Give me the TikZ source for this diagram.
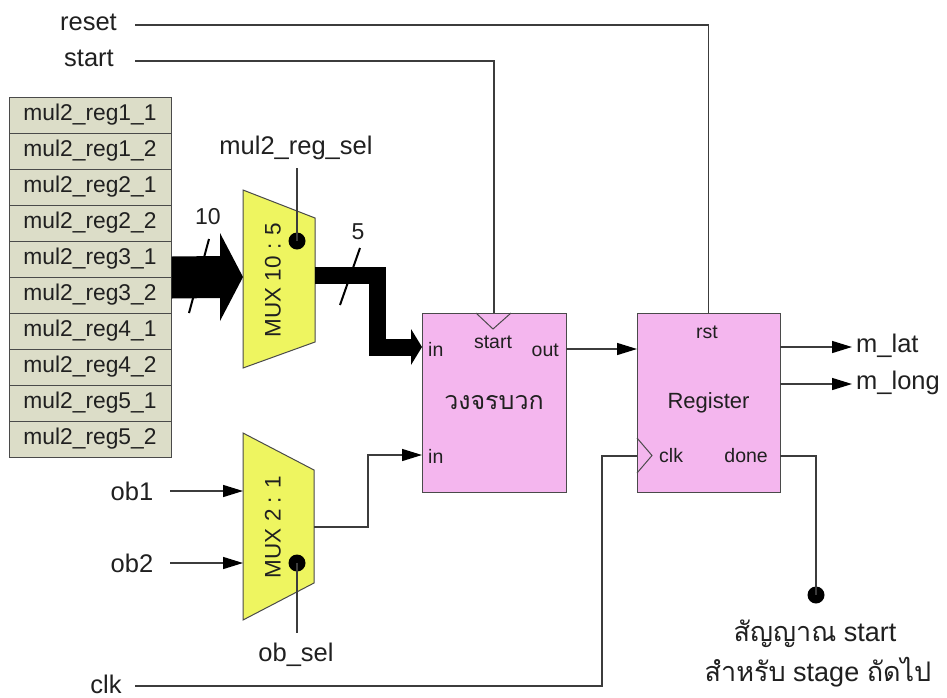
\documentclass[tikz,border=0pt]{standalone}
\usepackage{fontspec}
\setmainfont{Liberation Sans}
\newfontfamily\thaifont[Script=Thai]{Loma}
\usetikzlibrary{arrows.meta,calc}
\definecolor{stackfill}{HTML}{DCDDC8}
\definecolor{muxfill}{HTML}{EEF560}
\definecolor{boxfill}{HTML}{F4B6EE}
\definecolor{edgec}{HTML}{4A4A4A}
\definecolor{wirec}{HTML}{3C3C3C}
\definecolor{txtc}{HTML}{202020}
\tikzset{
  stackcell/.style={draw=edgec, line width=1pt, fill=stackfill, minimum width=162pt,
    minimum height=36pt, inner sep=0pt, text=txtc, font=\fontsize{22.8}{26}\selectfont},
  lbl/.style={font=\fontsize{25.5}{30}\selectfont, inner sep=0pt, text=txtc},
  midlbl/.style={font=\fontsize{22.5}{26}\selectfont, inner sep=0pt, text=txtc},
  port/.style={font=\fontsize{19.5}{22}\selectfont, inner sep=0pt, text=txtc},
  block/.style={draw=edgec, line width=1pt, fill=boxfill, inner sep=0pt},
  muxshape/.style={draw=edgec, line width=1pt, fill=muxfill},
  wire/.style={draw=wirec, line width=1.4pt},
  sig/.style={wire, -{Triangle[length=20pt,width=12pt,black]}},
  dotn/.style={circle, fill=black, minimum size=17pt, inner sep=0pt},
  slash/.style={draw=black, line width=2pt},
}
\begin{document}
\begin{tikzpicture}[x=1pt,y=-1pt]
\fill[white] (0,0) rectangle (947,697);
\useasboundingbox (0,0) rectangle (947,697);

% register stack
\foreach \t [count=\i] in {mul2\_reg1\_1,mul2\_reg1\_2,mul2\_reg2\_1,mul2\_reg2\_2,mul2\_reg3\_1,mul2\_reg3\_2,mul2\_reg4\_1,mul2\_reg4\_2,mul2\_reg5\_1,mul2\_reg5\_2}
  \node[stackcell] (c\i) at (90,{115+36*(\i-1)}) {\t};

% MUX 10:5
\draw[muxshape] (243,190) -- (315,218) -- (315,342) -- (243,368) -- cycle;
\node[midlbl, rotate=90] (mux1) at (273,280) {MUX 10 : 5};
\coordinate (m1in) at (243,277);
\coordinate (m1out) at (315,275);

% bus 10
\draw[slash] (209,239) -- (189,313);
\fill[black] ($(c5.south east)+(0,-21)$) -- ($(m1in)+(-23,-21)$) -- ($(m1in)+(-23,-44)$)
  -- (m1in) -- ($(m1in)+(-23,44)$) -- ($(m1in)+(-23,21)$) -- ($(c5.south east)+(0,21)$) -- cycle;
\node[midlbl, font=\fontsize{23}{26}\selectfont] (n10) at (208,217) {10};

% select of MUX 10:5
\node[lbl] (sel1) at (296,148) {mul2\_reg\_sel};
\node[dotn] (dot1) at (297,241) {};
\draw[wire] (dot1.center) -- (297,168);

% MUX 2:1
\draw[muxshape] (243,433) -- (314,470) -- (314,583) -- (243,620) -- cycle;
\node[midlbl, rotate=90] (mux2) at (273,527) {MUX 2 : 1};
\coordinate (m2in1) at (243,491);
\coordinate (m2in2) at (243,563);
\coordinate (m2out) at (314,527);
\node[dotn] (dot2) at (297,563) {};
\node[lbl] (obsel) at (296,655) {ob\_sel};
\draw[wire] (dot2.center) -- (297,633);

% adder
\node[block, minimum width=144pt, minimum height=179pt, font=\thaifont\fontsize{25}{28}\selectfont, text=txtc] (add) at (494,402.5) {วงจรบวก};
\draw[draw=edgec, line width=1pt] (476,313) -- (493,329) -- (511,313);
\node[port] (pstart) at (493,342) {start};
\node[port, anchor=west] (pin1) at (428,349) {in};
\node[port, anchor=east] (pout) at (559,350) {out};
\node[port, anchor=west] (pin2) at (428,456) {in};
\coordinate (addin1) at (422,347);
\coordinate (addin2) at (422,455);
\coordinate (addout) at (566,349);

% register
\node[block, minimum width=143pt, minimum height=179pt, font=\fontsize{22}{26}\selectfont, text=txtc] (reg) at (708.5,402.5) {Register};
\draw[draw=edgec, line width=1pt] (637,438) -- (652,455.5) -- (637,473);
\node[port] (prst) at (707,332) {rst};
\node[port, anchor=west] (pclk) at (659,456) {clk};
\node[port, anchor=east] (pdone) at (768,456) {done};
\coordinate (regin) at (637,349);
\coordinate (regclk) at (637,456);
\coordinate (regq1) at (780,347);
\coordinate (regq2) at (780,384);
\coordinate (regdone) at (780,456);

% bus 5
\draw[slash] (360,248) -- (340,305);
\draw[line width=17pt, line join=miter, draw=black] (m1out) -- ($(m1out)+(62,0)$) |- ($(addin1)+(-10,0)$);
\fill[black] ($(addin1)+(-11,-18)$) -- (addin1) -- ($(addin1)+(-11,18)$) -- cycle;
\node[midlbl, font=\fontsize{23}{26}\selectfont] (n5) at (358,232) {5};

% control inputs
\node[lbl, anchor=east] (reset) at (117,22) {reset};
\coordinate (resetL) at (135,25);
\draw[wire] (resetL) -| (reg.north);
\node[lbl, anchor=east] (start) at (114,58) {start};
\coordinate (startL) at (135,61);
\draw[wire] (startL) -| (add.north);

\node[lbl] (ob1) at (132,491) {ob1};
\node[lbl] (ob2) at (132,563) {ob2};
\draw[sig] (ob1.east -| 170,0) -- (m2in1);
\draw[sig] (ob2.east -| 170,0) -- (m2in2);

\node[lbl] (clk) at (106,684) {clk};
\coordinate (clkL) at (135,686);
\draw[wire] (clkL) -| ($(regclk)+(-35,0)$) -- (regclk);

% internal wires
\draw[sig] (m2out) -| ($(m2out)!0.5!(addin2)$) |- (addin2);
\draw[sig] (addout) -- (regin);

% outputs
\node[lbl, anchor=west] (mlat) at (856,346) {m\_lat};
\node[lbl, anchor=west] (mlong) at (856,383) {m\_long};
\draw[sig] (regq1) -- (852,347);
\draw[sig] (regq2) -- (852,384);

\node[dotn] (dot3) at (816,595) {};
\draw[wire] (regdone) -| (dot3.center);
\node[lbl, font=\fontsize{27}{32}\selectfont] (nx1) at (815,634) {{\thaifont สัญญาณ} start};
\node[lbl, font=\fontsize{27}{32}\selectfont] (nx2) at (818,672) {{\thaifont สำหรับ} stage {\thaifont ถัดไป}};
\end{tikzpicture}
\end{document}
